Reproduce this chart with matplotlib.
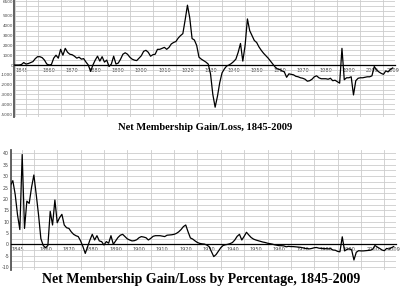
import matplotlib
matplotlib.use("Agg")
import matplotlib.pyplot as plt
from matplotlib.ticker import MultipleLocator
import numpy as np

years = np.arange(1845, 2010)

# net membership gain/loss (members)
gain = [
    0, 0, 0, 50, 250, 100, 150, 250, 350, 650,
    850, 850, 750, 500, 100, 0, 50, 700, 1000, 700,
    1600, 1000, 1700, 1300, 1100, 1050, 900, 700, 800, 600,
    650, 300, 0, -650, 0, 500, 900, 400, 850, 300,
    500, -150, 100, 900, 100, 200, 600, 1100, 1250, 1100,
    800, 600, 500, 450, 700, 950, 1400, 1500, 1300, 900,
    1050, 1100, 1600, 1600, 1700, 1800, 1600, 1800, 2150, 2300,
    2400, 2750, 3000, 3200, 4600, 6100, 4800, 2700, 2550, 2000,
    800, 600, 450, 300, 100, -900, -3000, -4300, -3200, -1800,
    -800, -400, -100, 0, 150, 350, 600, 1300, 2200, 400,
    2000, 4700, 3500, 3000, 2500, 2300, 1850, 1500, 1200, 950,
    700, 400, 100, -200, -400, -450, -600, -700, -1250, -900,
    -950, -1000, -1150, -1200, -1300, -1350, -1450, -1650, -1600, -1450,
    -1200, -1100, -1300, -1400, -1400, -1400, -1450, -1350, -1600, -1550,
    -1700, -1850, 1700, -1500, -1300, -1300, -1200, -3050, -1600, -1350,
    -1300, -1300, -1250, -1200, -1200, -1100, -150, -500, -700, -850,
    -950, -600, -700, -450, -300,
]

# net membership gain/loss (percent)
pct = [
    26, 28, 22, 13, 6.5, 39.5, 7, 19, 18, 25,
    30.5, 22, 13, 2.5, -0.5, -1.5, -0.5, 14.5, 8.5, 19.5,
    9.5, 11.7, 13.2, 8.5, 7.3, 7, 5.5, 4.4, 3.8, 3.4,
    1.5, -1, -4, -1, 1.9, 4.4, 1.9, 3.8, 1.5, 1.2,
    -0.3, 1.2, 0.5, 3.8, 0, 1.5, 3.0, 4.0, 4.4, 3.4,
    2.4, 1.9, 1.5, 1.6, 2.0, 2.9, 3.4, 3.2, 2.9, 1.9,
    2.6, 3.5, 3.8, 3.8, 3.8, 3.6, 3.4, 4.0, 4.1, 4.2,
    4.4, 4.8, 5.5, 6.5, 7.8, 8.5, 5.5, 2.8, 2.3, 1.5,
    0.8, 0.4, 0.2, 0.1, -0.3, -1, -3.2, -5.4, -4.5, -3,
    -1.5, -0.5, -0.2, 0, 0.3, 0.8, 1.9, 3.5, 4.4, 1.9,
    3.5, 5.3, 4.1, 3.0, 2.3, 1.9, 1.6, 1.3, 1.0, 0.8,
    0.5, 0.3, 0.1, -0.2, -0.4, -0.6, -0.6, -0.7, -1.1, -0.9,
    -1, -1, -1.1, -1.2, -1.3, -1.5, -1.8, -1.9, -2, -1.8,
    -1.5, -1.4, -1.7, -1.8, -1.9, -1.9, -2, -1.9, -2.5, -2.6,
    -3.1, -3.3, 3.3, -2.9, -2.2, -2.0, -2.4, -6.9, -3.5, -2.8,
    -2.9, -2.9, -2.8, -2.7, -2.6, -2.2, -0.5, -1.2, -1.8, -2.5,
    -2.8, -1.8, -2.1, -1.5, -1.0,
]

xtick_pos = [1848.3, 1860, 1870, 1880, 1890, 1900, 1910, 1920, 1930,
             1940, 1950, 1960, 1970, 1980, 1990, 2000, 2009]
xtick_lab = ["1845", "1860", "1870", "1880", "1890", "1900", "1910", "1920",
             "1930", "1940", "1950", "1960", "1970", "1980", "1990", "2000",
             "2009"]
top_yticks = [-5000, -4000, -3000, -2000, -1000, 0, 1000, 2000, 3000, 4000,
              5000, 6500]
bot_yticks = [-10, -5, 0, 5, 10, 15, 20, 25, 30, 35, 40]

W, H = 400, 296
fig = plt.figure(figsize=(W / 100, H / 100), dpi=100)


def px_axes(l, t, r, b):
    return fig.add_axes([l / W, 1 - b / H, (r - l) / W, (b - t) / H])


def style(ax, ylo, yhi, yticks, ystep, ysize):
    ax.set_xlim(1845, 2010)
    ax.set_ylim(ylo, yhi)
    for s in ["top", "right"]:
        ax.spines[s].set_visible(False)
    ax.spines["bottom"].set_position(("data", 0))
    ax.spines["bottom"].set_color("black")
    ax.spines["bottom"].set_linewidth(0.9)
    ax.spines["left"].set_color("#555555")
    ax.spines["left"].set_linewidth(1.3)
    ax.set_xticks(xtick_pos)
    ax.set_xticklabels(xtick_lab)
    ax.set_yticks(yticks)
    ax.set_yticklabels([str(v) for v in yticks])
    ax.xaxis.set_minor_locator(MultipleLocator(5))
    ax.yaxis.set_minor_locator(MultipleLocator(ystep))
    ax.tick_params(which="both", length=0, labelcolor="#444444")
    ax.tick_params(axis="x", pad=2, labelsize=3.6)
    ax.tick_params(axis="y", pad=1, labelsize=ysize)
    ax.xaxis.grid(True, which="minor", color="#cccccc", linewidth=0.6)
    ax.yaxis.grid(True, which="both", color="#cccccc", linewidth=0.6)
    ax.set_axisbelow(True)


ax1 = px_axes(14.5, 0, 395, 117)
ax1.plot(years, gain, color="black", linewidth=0.9, zorder=3)
style(ax1, -5300, 6630, top_yticks, 500, 3.0)

ax2 = px_axes(10.5, 150, 396, 270)
ax2.plot(years, pct, color="black", linewidth=0.9, zorder=3)
style(ax2, -11.3, 41.5, bot_yticks, 2.5, 3.4)

fig.text(205 / W, 1 - 128 / H, "Net Membership Gain/Loss, 1845-2009",
         ha="center", va="center", fontsize=7.6, fontweight="bold",
         family="Liberation Serif")
fig.text(201 / W, 1 - 280 / H, "Net Membership Gain/Loss by Percentage, 1845-2009",
         ha="center", va="center", fontsize=10, fontweight="bold",
         family="Liberation Serif")

fig.savefig("out.png", dpi=100, facecolor="white")
